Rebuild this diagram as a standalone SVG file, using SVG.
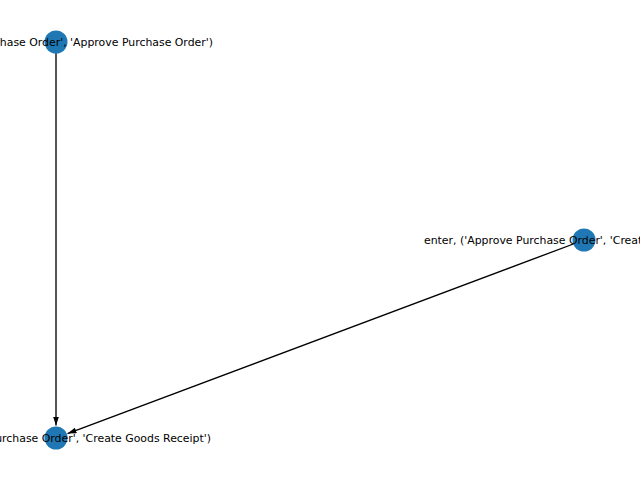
<svg xmlns="http://www.w3.org/2000/svg" width="640" height="480" viewBox="0 0 640 480">
  <style>
    .node { fill: #1f78b4; }
    .lbl { font-family: "DejaVu Sans", sans-serif; font-size: 10.9px; fill: #000; }
    .edge { stroke: #000; stroke-width: 1.33; fill: none; }
  </style>
  <defs>
    <marker id="arr" markerUnits="userSpaceOnUse" markerWidth="10" markerHeight="8" refX="9" refY="3" orient="auto">
      <path d="M0,0 L9,3 L0,6 z" fill="#000"/>
    </marker>
  </defs>
  <rect width="640" height="480" fill="#fff"/>
  <g id="edges">
    <line class="edge" x1="56" y1="42" x2="56" y2="425.5" marker-end="url(#arr)"/>
    <line class="edge" x1="584" y1="240" x2="67.5" y2="433.6" marker-end="url(#arr)"/>
  </g>
  <g id="node-top">
    <circle class="node" cx="56" cy="42" r="11.5"/>
    <text class="lbl" x="213" y="46" text-anchor="end">enter, ('Create Purchase Order', 'Approve Purchase Order')</text>
  </g>
  <g id="node-mid">
    <circle class="node" cx="584" cy="240" r="11.5"/>
    <text class="lbl" x="424" y="244">enter, ('Approve Purchase Order', 'Create Goods Receipt')</text>
  </g>
  <g id="node-bottom">
    <circle class="node" cx="56" cy="438" r="11.5"/>
    <text class="lbl" x="211" y="442" text-anchor="end">enter, ('Approve Purchase Order', 'Create Goods Receipt')</text>
  </g>
</svg>
